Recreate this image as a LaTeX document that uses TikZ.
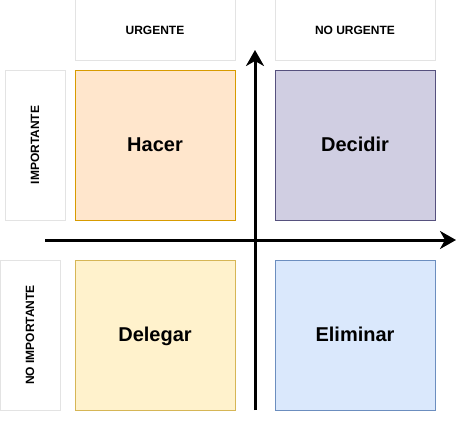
\documentclass[tikz,border=0pt]{standalone}
\usepackage{fontspec}
\setmainfont{Liberation Sans}
\usetikzlibrary{arrows.meta}
\definecolor{headline}{HTML}{E3E3E3}
\definecolor{hacerfill}{HTML}{FFE6CC}
\definecolor{hacerline}{HTML}{D79B00}
\definecolor{decidirfill}{HTML}{D0CEE2}
\definecolor{decidirline}{HTML}{56517E}
\definecolor{delegarfill}{HTML}{FFF2CC}
\definecolor{delegarline}{HTML}{D6B656}
\definecolor{eliminarfill}{HTML}{DAE8FC}
\definecolor{eliminarline}{HTML}{6C8EBF}
\tikzset{
  head/.style={draw=headline, line width=1pt, fill=white, minimum width=160pt, minimum height=60pt,
    inner sep=0pt, text height=10.9pt, text depth=2.5pt, font=\fontsize{12}{14}\selectfont\bfseries},
  side/.style={head, rotate=90, minimum width=150pt, minimum height=60pt},
  quad/.style={line width=1pt, minimum width=160pt, minimum height=150pt,
    inner sep=0pt, text height=18.1pt, text depth=4.2pt, font=\fontsize{20}{24}\selectfont\bfseries},
  axis/.style={draw=black, line width=3pt, -{Stealth[length=16pt,width=18pt,inset=5pt]}}
}

\begin{document}
\begin{tikzpicture}[x=1pt, y=-1pt]
  \useasboundingbox (0,0) rectangle (465,420);
  % column and row headers
  \node[head] (urg) at (155,30) {URGENTE};
  \node[head] (nourg) at (355,30) {NO URGENTE};
  \node[side] (imp) at (35,145) {IMPORTANTE};
  \node[side] (noimp) at (30,335) {NO IMPORTANTE};
  % quadrants
  \node[quad, draw=hacerline, fill=hacerfill] (hacer) at (155,145) {Hacer};
  \node[quad, draw=decidirline, fill=decidirfill] (decidir) at (355,145) {Decidir};
  \node[quad, draw=delegarline, fill=delegarfill] (delegar) at (155,335) {Delegar};
  \node[quad, draw=eliminarline, fill=eliminarfill] (eliminar) at (355,335) {Eliminar};
  % axes
  \coordinate (ybot) at (255,410);
  \coordinate (ytop) at (255,50);
  \coordinate (xleft) at (45,240);
  \coordinate (xright) at (456,240);
  \draw[axis] (ybot) -- (ytop);
  \draw[axis] (xleft) -- (xright);
\end{tikzpicture}
\end{document}
